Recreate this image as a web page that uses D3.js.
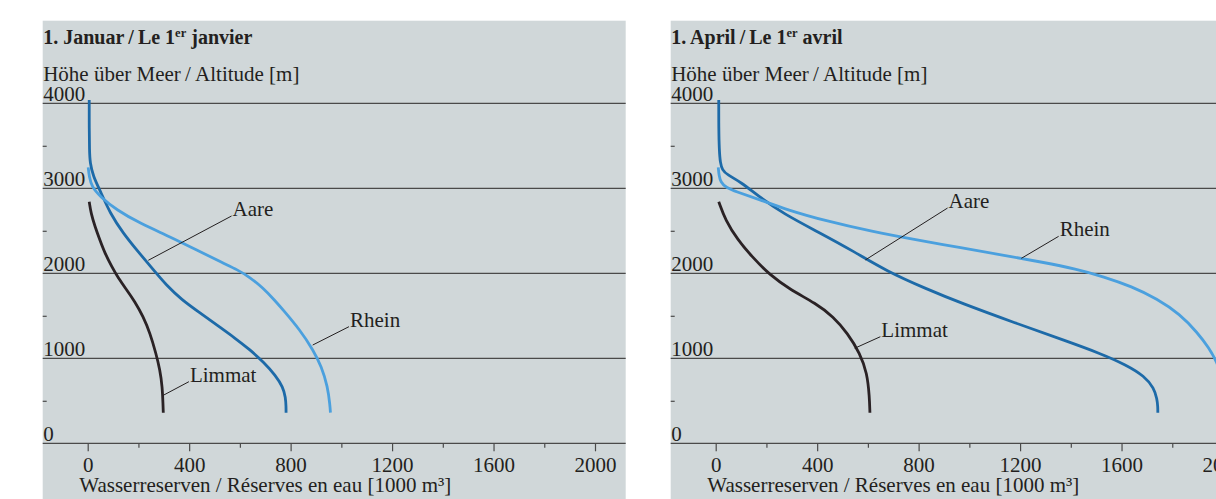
<!DOCTYPE html>
<html>
<head>
<meta charset="utf-8">
<script src="https://cdn.jsdelivr.net/npm/d3@7"></script>
<style>
  body { margin: 0; background: #ffffff; }
  svg { display: block; }
  text { font-family: 'Liberation Serif', 'Times New Roman', serif; fill: #231f20; }
</style>
</head>
<body>
<div id="container"></div>
<script>
// Wasserreserven nach Höhe – Aare, Rhein, Limmat (1. Januar / 1. April)

//### DATA ###
const panelNames = [ 'Januar', 'April' ];
const titleLead = [ '1. Januar\u2009/\u2009Le 1', '1. April\u2009/\u2009Le 1' ];
const titleSup = 'er';
const titleTail = [ ' janvier', ' avril' ];
const yTitle = 'Höhe über Meer\u2009/\u2009Altitude [m]';
const xTitle = 'Wasserreserven / Réserves en eau [1000 m³]';

const altitudeTicks = [ 0, 1000, 2000, 3000, 4000 ];
const altitudeMinor = [ 500, 1500, 2500, 3500 ];
const reserveTicks = [ 0, 400, 800, 1200, 1600, 2000 ];
const reserveMinor = [ 200, 600, 1000, 1400, 1800 ];

//>>> [reserve (1000 m³), altitude (m)]
const janAare = [ [ 6, 4040 ], [ 6, 3700 ], [ 7, 3450 ], [ 9, 3300 ], [ 22, 3140 ], [ 48, 2980 ], [ 88, 2706 ],
  [ 140, 2471 ], [ 200, 2250 ], [ 259, 2040 ], [ 310, 1860 ], [ 370, 1690 ], [ 440, 1540 ], [ 510, 1390 ],
  [ 580, 1240 ], [ 640, 1100 ], [ 695, 950 ], [ 740, 800 ], [ 770, 660 ], [ 780, 540 ], [ 782, 430 ], [ 782, 360 ] ];
const janRhein = [ [ 2, 3247 ], [ 6, 3137 ], [ 16, 3019 ], [ 49, 2901 ], [ 114, 2745 ], [ 206, 2588 ], [ 324, 2431 ],
  [ 430, 2274 ], [ 535, 2118 ], [ 587, 2047 ], [ 640, 1953 ], [ 692, 1824 ], [ 735, 1690 ], [ 771, 1568 ],
  [ 837, 1333 ], [ 889, 1098 ], [ 922, 901 ], [ 946, 666 ], [ 955, 450 ], [ 957, 360 ] ];
const janLimmat = [ [ 6, 2842 ], [ 13, 2706 ], [ 29, 2548 ], [ 48, 2392 ], [ 68, 2235 ], [ 95, 2078 ], [ 121, 1941 ],
  [ 154, 1804 ], [ 186, 1666 ], [ 219, 1490 ], [ 246, 1294 ], [ 269, 1059 ], [ 285, 862 ], [ 294, 666 ],
  [ 297, 450 ], [ 298, 360 ] ];

const aprAare = [ [ 12, 4040 ], [ 12, 3700 ], [ 14, 3450 ], [ 18, 3300 ], [ 26, 3215 ], [ 45, 3160 ], [ 101, 3070 ],
  [ 171, 2900 ], [ 268, 2700 ], [ 408, 2480 ], [ 540, 2265 ], [ 674, 2025 ], [ 828, 1820 ], [ 967, 1650 ],
  [ 1177, 1420 ], [ 1385, 1200 ], [ 1514, 1060 ], [ 1620, 920 ], [ 1690, 790 ], [ 1728, 650 ], [ 1740, 520 ],
  [ 1743, 430 ], [ 1743, 360 ] ];
const aprRhein = [ [ 10, 3247 ], [ 13, 3150 ], [ 20, 3070 ], [ 40, 3010 ], [ 80, 2960 ], [ 171, 2870 ], [ 283, 2745 ],
  [ 436, 2615 ], [ 618, 2490 ], [ 786, 2395 ], [ 967, 2300 ], [ 1140, 2210 ], [ 1290, 2130 ], [ 1420, 2050 ],
  [ 1530, 1960 ], [ 1640, 1845 ], [ 1740, 1700 ], [ 1830, 1520 ], [ 1900, 1300 ], [ 1945, 1120 ], [ 1975, 960 ],
  [ 2000, 760 ], [ 2015, 560 ], [ 2020, 360 ] ];
const aprLimmat = [ [ 12, 2842 ], [ 38, 2627 ], [ 87, 2392 ], [ 143, 2196 ], [ 213, 1980 ], [ 296, 1804 ],
  [ 394, 1647 ], [ 464, 1490 ], [ 520, 1294 ], [ 569, 1059 ], [ 597, 824 ], [ 606, 550 ], [ 608, 360 ] ];

//>>> Labels: name, text anchor [reserve, altitude], leader end on the curve [reserve, altitude]
const janLabels = [
  { name: 'Aare', at: [ 571, 2674 ], to: [ 239, 2153 ] },
  { name: 'Rhein', at: [ 1034, 1372 ], to: [ 887, 1156 ] },
  { name: 'Limmat', at: [ 403, 725 ], to: [ 300, 568 ] }
];
const aprLabels = [
  { name: 'Aare', at: [ 918, 2768 ], to: [ 590, 2157 ] },
  { name: 'Rhein', at: [ 1356, 2435 ], to: [ 1205, 2176 ] },
  { name: 'Limmat', at: [ 653, 1254 ], to: [ 548, 1118 ] }
];

const panels = [
  { series: { Limmat: janLimmat, Aare: janAare, Rhein: janRhein }, labels: janLabels },
  { series: { Limmat: aprLimmat, Aare: aprAare, Rhein: aprRhein }, labels: aprLabels }
];


//### CREATE THE VISUALIZATION ###
const W = 1216, H = 499;
const panelLefts = [ 42.7, 670.7 ];
const panelTop = 20.7;
const panelWidth = 583;
const fontSize = 21;
const serif = "'Liberation Serif', 'Times New Roman', serif";

const colors = { Limmat: '#2a2225', Aare: '#1d6aa8', Rhein: '#4ba0de' };

const svg = d3.select( '#container' )
  .append( 'svg' )
  .attr( 'width', W )
  .attr( 'height', H );

//_____ SCALES _____
const xScale = d3.scaleLinear().domain( [ 0, 2000 ] ).range( [ 45, 552.3 ] );
const yScale = d3.scaleLinear().domain( [ 0, 4000 ] ).range( [ 443.3, 103.3 ] );

//>>> B-spline through the traced points, smooths out reading noise
const line = d3.line()
  .x( d => xScale( d[ 0 ] ) )
  .y( d => yScale( d[ 1 ] ) )
  .curve( d3.curveBasis );

panels.forEach( ( panel, i ) => {
  const g = svg.append( 'g' )
    .attr( 'class', 'panel ' + panelNames[ i ] )
    .attr( 'transform', `translate(${panelLefts[ i ]},0)` );

  //>>> Background
  g.append( 'rect' )
    .attr( 'x', 0 )
    .attr( 'y', panelTop )
    .attr( 'width', panelWidth )
    .attr( 'height', H - panelTop )
    .attr( 'fill', '#d0d7d9' );

  //>>> Title
  const title = g.append( 'text' )
    .attr( 'x', 0.5 )
    .attr( 'y', 43.5 )
    .style( 'font-size', '20px' )
    .style( 'font-weight', 'bold' );
  title.append( 'tspan' ).text( titleLead[ i ] );
  title.append( 'tspan' ).attr( 'dy', -7 ).style( 'font-size', '12.5px' ).text( titleSup );
  title.append( 'tspan' ).attr( 'dy', 7 ).text( titleTail[ i ] );

  //>>> Y title
  g.append( 'text' )
    .attr( 'x', 0.5 )
    .attr( 'y', 81 )
    .style( 'font-size', fontSize + 'px' )
    .text( yTitle );

  //_____ GRID LINES (incl. the 0 baseline) _____
  g.selectAll( '.grid' )
    .data( altitudeTicks )
    .enter()
    .append( 'line' )
    .attr( 'class', 'grid' )
    .attr( 'x1', 0 )
    .attr( 'x2', panelWidth )
    .attr( 'y1', d => yScale( d ) )
    .attr( 'y2', d => yScale( d ) )
    .attr( 'stroke', '#4a4a4a' )
    .attr( 'stroke-width', 1.2 );

  //>>> Y minor dashes
  const yMinor = d3.axisRight( yScale ).tickValues( altitudeMinor ).tickSize( 4 ).tickFormat( '' );
  g.append( 'g' ).attr( 'class', 'y-minor' ).call( yMinor )
    .call( a => a.select( '.domain' ).remove() )
    .selectAll( 'line' ).attr( 'stroke', '#4a4a4a' ).attr( 'stroke-width', 1.2 );

  //>>> Y tick labels
  g.selectAll( '.ylab' )
    .data( altitudeTicks )
    .enter()
    .append( 'text' )
    .attr( 'class', 'ylab' )
    .attr( 'x', 0.5 )
    .attr( 'y', d => yScale( d ) - 2.5 )
    .style( 'font-size', fontSize + 'px' )
    .text( d => d );

  //_____ X AXIS _____
  const xMajor = d3.axisBottom( xScale ).tickValues( reserveTicks ).tickSize( 8 ).tickFormat( d => d );
  const xMinor = d3.axisBottom( xScale ).tickValues( reserveMinor ).tickSize( 4.5 ).tickFormat( '' );

  g.append( 'g' )
    .attr( 'id', 'x-axis-' + i )
    .attr( 'transform', `translate(0,${yScale( 0 )})` )
    .call( xMajor )
    .call( a => a.select( '.domain' ).remove() )
    .call( a => a.selectAll( 'line' ).attr( 'stroke', '#4a4a4a' ).attr( 'stroke-width', 1.2 ) )
    .call( a => a.selectAll( 'text' )
      .attr( 'y', 28.4 )
      .attr( 'dy', null )
      .attr( 'fill', '#231f20' )
      .style( 'font-size', fontSize + 'px' )
      .style( 'font-family', serif ) );

  g.append( 'g' )
    .attr( 'transform', `translate(0,${yScale( 0 )})` )
    .call( xMinor )
    .call( a => a.select( '.domain' ).remove() )
    .selectAll( 'line' ).attr( 'stroke', '#4a4a4a' ).attr( 'stroke-width', 1.2 );

  //>>> X title
  g.append( 'text' )
    .attr( 'x', 36.6 )
    .attr( 'y', 491.7 )
    .style( 'font-size', fontSize + 'px' )
    .text( xTitle );

  //_____ CURVES _____
  Object.entries( panel.series ).forEach( ( [ name, pts ] ) => {
    g.append( 'path' )
      .datum( pts )
      .attr( 'class', 'curve ' + name )
      .attr( 'fill', 'none' )
      .attr( 'stroke', colors[ name ] )
      .attr( 'stroke-width', 2.8 )
      .attr( 'd', line );
  } );

  //_____ LABELS + LEADERS _____
  panel.labels.forEach( lb => {
    g.append( 'line' )
      .attr( 'x1', xScale( lb.at[ 0 ] ) - 1 )
      .attr( 'y1', yScale( lb.at[ 1 ] ) )
      .attr( 'x2', xScale( lb.to[ 0 ] ) )
      .attr( 'y2', yScale( lb.to[ 1 ] ) )
      .attr( 'stroke', '#231f20' )
      .attr( 'stroke-width', 1 );
    g.append( 'text' )
      .attr( 'x', xScale( lb.at[ 0 ] ) )
      .attr( 'y', yScale( lb.at[ 1 ] ) )
      .style( 'font-size', fontSize + 'px' )
      .text( lb.name );
  } );
} );
</script>
</body>
</html>
